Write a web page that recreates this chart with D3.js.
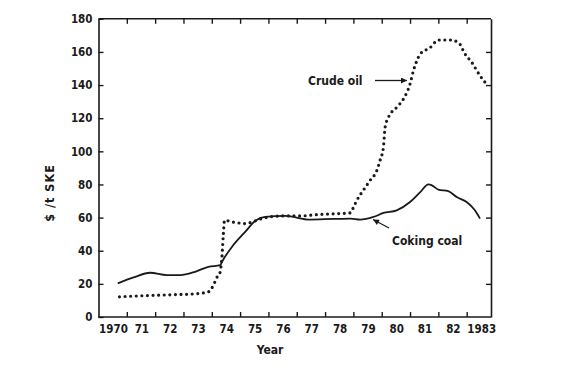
<!DOCTYPE html>
<html>
<head>
<meta charset="utf-8">
<script src="https://cdn.jsdelivr.net/npm/d3@7"></script>
<style>
  html, body { margin: 0; padding: 0; background: #fff; }
  svg { display: block; }
  text { font-family: "DejaVu Sans Condensed", "DejaVu Sans", sans-serif; font-weight: bold; fill: #1a1a1a; }
</style>
</head>
<body>
<svg id="chart" width="575" height="376"></svg>
<script>
// ---- data (fractional years, $/t SKE) ----
const oilYears = [1970.74, 1971.5, 1972.5, 1973.4, 1973.88, 1974.06, 1974.18, 1974.30, 1974.33, 1974.36, 1974.38, 1974.41, 1974.45,
  1974.71, 1974.94, 1975.18, 1975.53, 1975.77, 1976.23, 1976.6, 1977.12, 1977.71, 1978.42, 1978.88, 1978.98, 1979.12,
  1979.35, 1979.59, 1979.83, 1979.94, 1980.06, 1980.12, 1980.24, 1980.53, 1980.77, 1981.0, 1981.12, 1981.24, 1981.36,
  1981.71, 1982.0, 1982.41, 1982.71, 1982.94, 1983.18, 1983.47, 1983.65];
const oilValues = [12.2, 12.8, 13.4, 14.0, 15.2, 19.3, 23.9, 27.3, 31.3, 36.3, 42.3, 50.4, 58.4,
  57.4, 56.8, 56.4, 58.0, 59.4, 60.8, 61.0, 61.0, 61.8, 62.4, 62.8, 65.4, 70.4,
  76.5, 82.5, 88.5, 94.5, 102.5, 114.6, 120.6, 126.6, 131.7, 140.7, 148.7, 154.7, 158.8,
  162.6, 167.2, 167.2, 165.7, 158.8, 153.7, 145.7, 141.7];

const coalYears = [1970.68, 1971.24, 1971.82, 1972.41, 1972.88, 1973.41, 1973.88, 1974.30, 1974.36, 1974.71, 1975.18,
  1975.53, 1975.88, 1976.59, 1977.47, 1978.29, 1978.9, 1979.24, 1979.71, 1980.06, 1980.53, 1981.0, 1981.36, 1981.65,
  1981.77, 1982.0, 1982.35, 1982.65, 1983.0, 1983.29, 1983.47];
const coalValues = [20.3, 23.9, 26.7, 25.3, 25.3, 27.3, 30.3, 31.3, 33.3, 42.3, 51.4,
  58.0, 60.4, 61.0, 58.8, 59.2, 59.4, 58.8, 60.4, 62.8, 64.4, 69.4, 75.4, 80.1,
  79.5, 76.9, 76.0, 72.4, 69.4, 64.4, 59.4];

const tickYears = [1971, 1972, 1973, 1974, 1975, 1976, 1977, 1978, 1979, 1980, 1981, 1982, 1983];
const yearLabels = ["1970", "71", "72", "73", "74", "75", "76", "77", "78", "79", "80", "81", "82", "1983"];
const yTicks = [0, 20, 40, 60, 80, 100, 120, 140, 160, 180];

// ---- scales ----
const svg = d3.select("#chart");
const x = d3.scaleLinear().domain([1970, 1984]).range([98.5, 495]);
const y = d3.scaleLinear().domain([0, 180]).range([317, 18.8]);
const xRight = 491;
const ink = "#1a1a1a";

// ---- axes (inward ticks on all four sides) ----
const gB = svg.append("g").attr("transform", `translate(0,${y(0)})`)
  .call(d3.axisBottom(x).tickValues(tickYears).tickSizeInner(-5).tickSizeOuter(0).tickFormat(""));
const gT = svg.append("g").attr("transform", `translate(0,${y(180)})`)
  .call(d3.axisTop(x).tickValues(tickYears).tickSizeInner(-5).tickSizeOuter(0).tickFormat(""));
const gL = svg.append("g").attr("transform", `translate(${x(1970)},0)`)
  .call(d3.axisLeft(y).tickValues(yTicks).tickSizeInner(-5).tickSizeOuter(0).tickPadding(6));
const gR = svg.append("g").attr("transform", `translate(${xRight},0)`)
  .call(d3.axisRight(y).tickValues(yTicks.slice(1, -1)).tickSizeInner(-5).tickSizeOuter(0).tickFormat(""));

[gB, gT].forEach(g => g.select(".domain").attr("d", `M${x(1970)},0H${xRight}`));
[gB, gT, gL, gR].forEach(g => {
  g.select(".domain").attr("stroke", ink).attr("stroke-width", 1.6);
  g.selectAll(".tick line").attr("stroke", ink).attr("stroke-width", 1.4);
});
gL.selectAll(".tick text").attr("font-size", 11.5).attr("font-family", null).attr("fill", ink);

// x labels centred in each year interval
svg.append("g").selectAll("text").data(yearLabels).join("text")
  .attr("x", (d, i) => x(1970 + i + 0.53))
  .attr("y", 333)
  .attr("text-anchor", "middle")
  .attr("font-size", 11.5)
  .text(d => d);

// axis titles
svg.append("text").attr("x", 270).attr("y", 354).attr("text-anchor", "middle")
  .attr("font-size", 12).text("Year");
svg.append("text").attr("transform", "translate(54,193) rotate(-90)").attr("text-anchor", "middle")
  .attr("font-size", 12.5).attr("letter-spacing", 1).text("$ /t SKE");

// ---- series ----
const line = d3.line().x(d => x(d[0])).y(d => y(d[1])).curve(d3.curveMonotoneX);

svg.append("path").datum(coalYears.map((t, i) => [t, coalValues[i]]))
  .attr("d", line).attr("fill", "none").attr("stroke", ink).attr("stroke-width", 1.8);

svg.append("path").datum(oilYears.map((t, i) => [t, oilValues[i]]))
  .attr("d", line).attr("fill", "none").attr("stroke", ink).attr("stroke-width", 3.2)
  .attr("stroke-linecap", "round").attr("stroke-dasharray", "0 5.6");

// ---- annotations ----
const defs = svg.append("defs");
defs.append("marker").attr("id", "ah").attr("viewBox", "0 0 10 10").attr("refX", 10).attr("refY", 5)
  .attr("markerWidth", 9).attr("markerHeight", 6).attr("markerUnits", "userSpaceOnUse").attr("orient", "auto")
  .append("path").attr("d", "M0,0L10,5L0,10Z").attr("fill", ink);

svg.append("text").attr("x", 308).attr("y", 85).attr("font-size", 12).text("Crude oil");
svg.append("line").attr("x1", 375).attr("y1", 80.5).attr("x2", 407).attr("y2", 80.5)
  .attr("stroke", ink).attr("stroke-width", 1.3).attr("marker-end", "url(#ah)");

svg.append("text").attr("x", 392).attr("y", 245).attr("font-size", 12).text("Coking coal");
svg.append("line").attr("x1", 389).attr("y1", 228).attr("x2", 373).attr("y2", 219.5)
  .attr("stroke", ink).attr("stroke-width", 1.3).attr("marker-end", "url(#ah)");
</script>
</body>
</html>
